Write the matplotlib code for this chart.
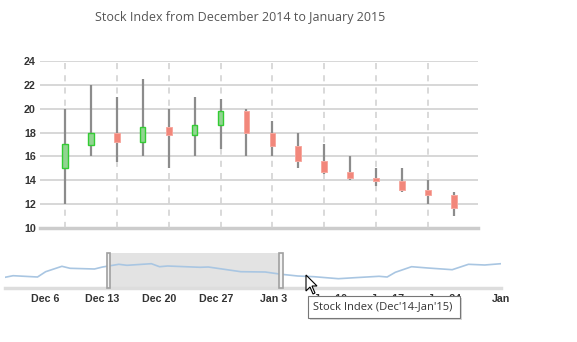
import numpy as np
import pandas as pd
import matplotlib
matplotlib.use("Agg")
import matplotlib.pyplot as plt
from matplotlib.patches import FancyBboxPatch, Polygon

# main candles (one per session shown in the zoomed window)
opens  = [15.0, 17.0, 18.0, 17.2, 18.5, 17.8, 18.6, 19.8, 18.0, 16.9, 15.6, 14.7, 14.2, 13.9, 13.2, 12.8]
closes = [17.0, 18.0, 17.2, 18.5, 17.8, 18.6, 19.8, 18.0, 16.9, 15.6, 14.7, 14.2, 13.9, 13.2, 12.8, 11.7]
highs  = [20.0, 22.0, 21.0, 22.5, 20.0, 21.0, 20.8, 20.0, 19.0, 18.0, 17.0, 16.0, 15.0, 15.0, 14.0, 13.0]
lows   = [12.0, 16.0, 15.5, 16.0, 15.0, 16.0, 16.6, 16.0, 16.0, 15.0, 14.5, 14.0, 13.5, 13.0, 12.0, 11.0]

# navigator overview line
nav_dates = ["2014-12-01", "2014-12-02", "2014-12-05", "2014-12-06", "2014-12-08", "2014-12-09",
             "2014-12-12", "2014-12-13", "2014-12-15", "2014-12-16", "2014-12-19", "2014-12-20",
             "2014-12-21", "2014-12-25", "2014-12-26", "2014-12-30", "2015-01-02", "2015-01-04",
             "2015-01-06", "2015-01-08", "2015-01-11", "2015-01-13", "2015-01-16", "2015-01-17",
             "2015-01-18", "2015-01-20", "2015-01-22", "2015-01-25", "2015-01-27", "2015-01-29",
             "2015-01-31"]
nav_values = [10.7, 12.3, 11.0, 16.3, 21.7, 19.7, 19.0, 21.0, 23.7, 22.7, 24.3, 21.3,
              22.0, 20.7, 21.0, 16.3, 16.0, 13.7, 12.0, 11.3, 9.3, 10.3, 11.7, 11.0,
              15.7, 21.3, 20.0, 18.3, 23.7, 23.0, 24.3]
nav_ticks = ["2014-12-06", "2014-12-13", "2014-12-20", "2014-12-27", "2015-01-03",
             "2015-01-10", "2015-01-17", "2015-01-24", "2015-01-31"]
nav_tick_labels = ["Dec 6", "Dec 13", "Dec 20", "Dec 27", "Jan 3", "Jan 10", "Jan 17", "Jan 24", "Jan"]
sel_start, sel_end = "2014-12-13 17:00", "2015-01-03 22:00"

W, H = 577, 342
fig = plt.figure(figsize=(W / 100, H / 100), dpi=100)

def px_axes(l, t, r, b):
    return fig.add_axes([l / W, 1 - b / H, (r - l) / W, (b - t) / H])

lab_font = dict(family="Liberation Sans", weight="bold", size=7.7, color="#333333")

# ---- main candlestick chart
ax = px_axes(40, 61, 478, 228)
x = np.arange(len(opens))
ax.set_xlim(-0.965, 15.93)
ax.set_ylim(10, 24)
ax.set_yticks(np.arange(10, 25, 2))
for v in np.arange(12, 25, 2):
    ax.axhline(v, color="#d4d4d4", lw=1.3, zorder=0)
ax.axhline(10, color="#cccccc", lw=2.5, zorder=0, clip_on=False)
for xi in x[::2]:
    ax.axvline(xi, color="#d0d0d0", lw=1.1, ls=(0, (4, 4)), zorder=0)

for i in x:
    up = closes[i] >= opens[i]
    ax.vlines(i, lows[i], highs[i], color="#8c8c8c", lw=1.6, zorder=2)
    bot, top = min(opens[i], closes[i]), max(opens[i], closes[i])
    if up:
        ax.bar(i, top - bot, bottom=bot, width=0.2, color="#92d492",
               edgecolor="#33cc33", lw=1.0, zorder=3)
    else:
        ax.bar(i, top - bot, bottom=bot, width=0.22, color="#f2877b",
               edgecolor="#f7a89f", lw=0.7, zorder=3)

ax.set_xticks([])
ax.tick_params(axis="y", length=0, pad=3)
for t in ax.get_yticklabels():
    t.set(**lab_font)
for s in ax.spines.values():
    s.set_visible(False)

fig.text(240 / W, 1 - 18 / H, "Stock Index from December 2014 to January 2015",
         ha="center", va="center", family="Open Sans", size=9, color="#555555")

# ---- navigator
nav = px_axes(5, 253, 501, 288)
nd = pd.to_datetime(nav_dates)
nav.set_xlim(pd.Timestamp("2014-12-01"), pd.Timestamp("2015-01-31"))
nav.set_ylim(0, 35)
nav.axvspan(pd.Timestamp(sel_start), pd.Timestamp(sel_end), color="#e3e3e3", zorder=0)
nav.plot(nd, nav_values, color="#a9c6e2", lw=1.2, zorder=2)
nav.axhline(0, color="#dddddd", lw=2.5, zorder=1, clip_on=False)
for d in (sel_start, sel_end):
    nav.bar(pd.Timestamp(d), 35, width=0.45, bottom=0, color="#f4f4f4",
            edgecolor="#a0a0a0", lw=1.2, zorder=4, clip_on=False)
nav.set_xticks(pd.to_datetime(nav_ticks))
nav.set_xticklabels(nav_tick_labels)
nav.set_yticks([])
nav.tick_params(axis="x", length=0, pad=4)
for t in nav.get_xticklabels():
    t.set(**lab_font)
for s in nav.spines.values():
    s.set_visible(False)

# ---- tooltip + mouse pointer (screenshot overlay, sits over the Jan tick labels)
fig.patches.append(FancyBboxPatch((310 / W, 1 - 320 / H), 152 / W, 22 / H, boxstyle="square,pad=0",
                                  transform=fig.transFigure, fc="#bbbbbb", ec="none", alpha=0.6, zorder=9))
fig.patches.append(FancyBboxPatch((308 / W, 1 - 318 / H), 152 / W, 22 / H, boxstyle="square,pad=0",
                                  transform=fig.transFigure, fc="white", ec="#777777", lw=0.8, zorder=10))
fig.text(313 / W, 1 - 307 / H, "Stock Index (Dec'14-Jan'15)", ha="left", va="center",
         family="Open Sans", size=8, color="#333333", zorder=11)
tip = np.array([306, 275])
shape = np.array([[0, 0], [0, 16], [4, 12], [7, 19], [9, 18], [6, 11], [11, 11]])
pts = [((tip[0] + dx) / W, 1 - (tip[1] + dy) / H) for dx, dy in shape]
fig.patches.append(Polygon(pts, closed=True, transform=fig.transFigure,
                           fc="white", ec="black", lw=0.8, zorder=12))

fig.savefig("out.png", dpi=100)
